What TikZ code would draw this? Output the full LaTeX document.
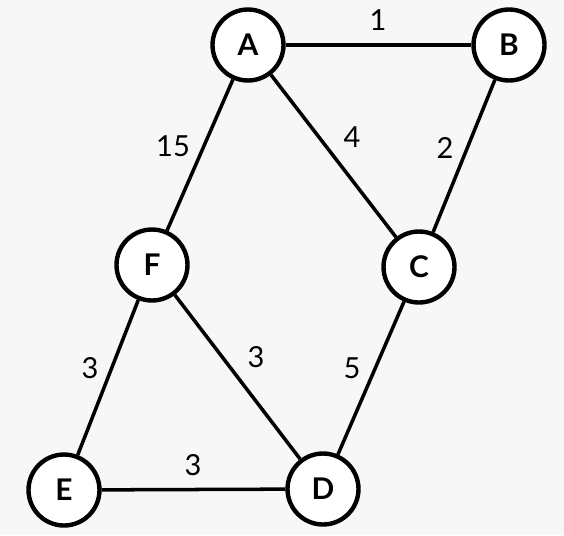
\documentclass[tikz,border=0pt]{standalone}
\usepackage{fontspec}
\setmainfont{Lato}
\usetikzlibrary{calc}
\tikzset{
    vertex/.style={draw,circle,line width=2.5pt,fill=white,minimum size=1.42cm,inner sep=0pt,font=\fontsize{17}{20}\selectfont\bfseries},
    edge/.style={line width=2pt},
    weight/.style={font=\fontsize{16.5}{19}\selectfont}
}
\begin{document}
\begin{tikzpicture}[x=0.02cm,y=-0.02cm]
% background
\fill[white!97!black] (0,0) rectangle (564,535);
\useasboundingbox (0,0) rectangle (564,535);

% vertices
\node[vertex] (A) at (248,45) {A};
\node[vertex] (B) at (509,45) {B};
\node[vertex] (C) at (419,267) {C};
\node[vertex] (F) at (152,265) {F};
\node[vertex] (E) at (64,490) {E};
\node[vertex] (D) at (323,489) {D};

% edges
\draw[edge] (A) -- (B);
\draw[edge] (A) -- (C);
\draw[edge] (A) -- (F);
\draw[edge] (B) -- (C);
\draw[edge] (C) -- (D);
\draw[edge] (F) -- (D);
\draw[edge] (F) -- (E);
\draw[edge] (E) -- (D);

% weights
\node[weight] (wab) at (378,20) {1};
\node[weight] (waf) at (173,146) {15};
\node[weight] (wac) at (352,137) {4};
\node[weight] (wbc) at (445,148) {2};
\node[weight] (wfe) at (90,368) {3};
\node[weight] (wfd) at (256,357) {3};
\node[weight] (wcd) at (352,368) {5};
\node[weight] (wed) at (193,465) {3};
\end{tikzpicture}
\end{document}
